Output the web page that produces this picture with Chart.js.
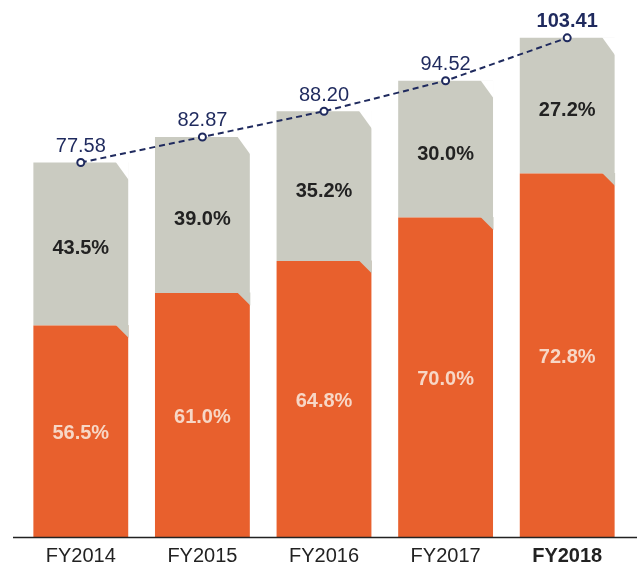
<!DOCTYPE html>
<html>
<head>
<meta charset="utf-8">
<script src="https://cdn.jsdelivr.net/npm/chart.js@4"></script>
<style>
  html, body { margin: 0; padding: 0; background: #fff; }
</style>
</head>
<body>
<canvas id="fyChart" width="637" height="567"></canvas>
<script>
const years = ["FY2014", "FY2015", "FY2016", "FY2017", "FY2018"];
const totals = [77.58, 82.87, 88.20, 94.52, 103.41];
const orangeShare = [56.5, 61.0, 64.8, 70.0, 72.8];
const greyShare = [43.5, 39.0, 35.2, 30.0, 27.2];

const ORANGE = "#e8602d";
const GREY = "#cacbc1";
const NAVY = "#1f2a5e";
const FONT = "'Liberation Sans', Arial, sans-serif";

// split each total by its share so the stack height equals the total
const orangeVals = totals.map((t, i) => t * orangeShare[i] / 100);
const greyVals = totals.map((t, i) => t * greyShare[i] / 100);

// cut top-right corner of each bar
const chamferPlugin = {
  id: "chamfer",
  afterDatasetDraw(chart, args) {
    const ds = chart.data.datasets[args.index];
    if (ds.type !== "bar") return;
    const ctx = chart.ctx;
    const w = 13;
    const h = args.index === 0 ? 13 : 18;
    ctx.save();
    ctx.fillStyle = args.index === 0 ? GREY : "#fff";
    args.meta.data.forEach(bar => {
      const right = bar.x + bar.width / 2 + 0.5;
      const top = bar.y - 0.5;
      ctx.beginPath();
      ctx.moveTo(right - w, top);
      ctx.lineTo(right, top);
      ctx.lineTo(right, top + h);
      ctx.closePath();
      ctx.fill();
    });
    ctx.restore();
  }
};

const labelPlugin = {
  id: "labels",
  afterDatasetsDraw(chart) {
    const ctx = chart.ctx;
    ctx.save();
    ctx.textAlign = "center";
    ctx.textBaseline = "middle";

    // baseline
    const y0 = chart.scales.y.getPixelForValue(0);
    ctx.strokeStyle = "#222";
    ctx.lineWidth = 1.5;
    ctx.beginPath();
    ctx.moveTo(13, y0 + 0.5);
    ctx.lineTo(637, y0 + 0.5);
    ctx.stroke();

    chart.getDatasetMeta(0).data.forEach((bar, i) => {
      ctx.fillStyle = "#f7d7c6";
      ctx.font = "bold 20px " + FONT;
      ctx.fillText(orangeShare[i].toFixed(1) + "%", bar.x, (bar.y + bar.base) / 2 + 2);
    });
    chart.getDatasetMeta(1).data.forEach((bar, i) => {
      ctx.fillStyle = "#222";
      ctx.font = "bold 20px " + FONT;
      ctx.fillText(greyShare[i].toFixed(1) + "%", bar.x, (bar.y + bar.base) / 2 + 5);
    });
    chart.getDatasetMeta(2).data.forEach((pt, i) => {
      ctx.fillStyle = NAVY;
      ctx.font = (i === 4 ? "bold " : "") + "20px " + FONT;
      ctx.fillText(totals[i].toFixed(2), pt.x, pt.y - 16);
    });
    ctx.restore();
  }
};

new Chart(document.getElementById("fyChart"), {
  data: {
    labels: years,
    datasets: [
      {
        type: "bar",
        label: "Orange",
        data: orangeVals,
        backgroundColor: ORANGE,
        stack: "s",
        order: 1,
        barPercentage: 0.78,
        categoryPercentage: 1
      },
      {
        type: "bar",
        label: "Grey",
        data: greyVals,
        backgroundColor: GREY,
        stack: "s",
        order: 1,
        barPercentage: 0.78,
        categoryPercentage: 1
      },
      {
        type: "line",
        label: "Total",
        data: totals,
        order: 0,
        borderColor: NAVY,
        borderWidth: 2,
        borderDash: [6, 4],
        pointRadius: 3.5,
        pointBorderWidth: 2,
        pointBackgroundColor: "#fff",
        pointBorderColor: NAVY,
        tension: 0,
        fill: false
      }
    ]
  },
  options: {
    responsive: false,
    animation: false,
    layout: { padding: { top: 6, left: 20, right: 9, bottom: -8 } },
    plugins: {
      legend: { display: false },
      tooltip: { enabled: false }
    },
    scales: {
      x: {
        stacked: true,
        grid: { display: false, drawTicks: false },
        border: { display: false },
        ticks: {
          color: "#222",
          padding: 7,
          font: ctx => ({ family: FONT, size: 20, weight: ctx.index === 4 ? "bold" : "normal" })
        }
      },
      y: {
        stacked: true,
        display: false,
        min: 0,
        max: 110
      }
    }
  },
  plugins: [chamferPlugin, labelPlugin]
});
</script>
</body>
</html>
